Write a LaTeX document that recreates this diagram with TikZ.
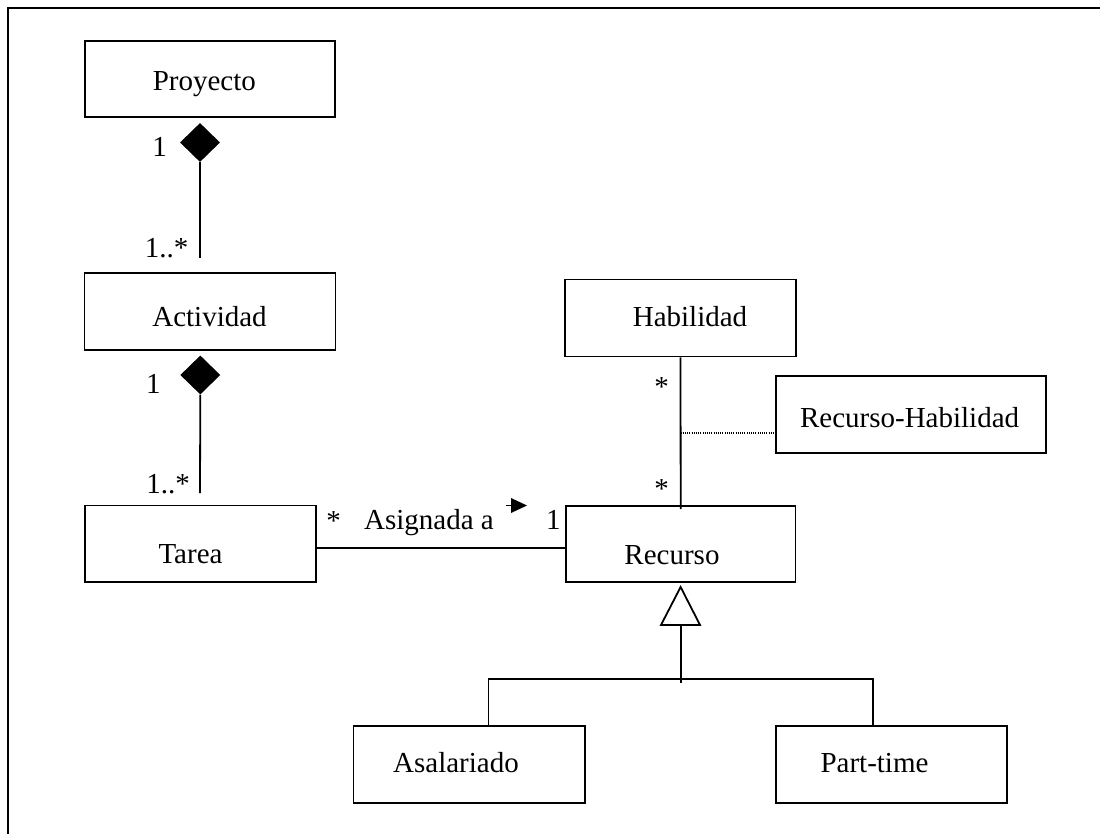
\documentclass[tikz,border=0pt]{standalone}
\usepackage{fontspec}
\setmainfont{Liberation Serif}
\usetikzlibrary{shapes.geometric}
\begin{document}
\begin{tikzpicture}[x=1pt,y=-1pt,
  cls/.style={draw, line width=1.8pt, inner sep=0pt, rectangle},
  cname/.style={font=\fontsize{29}{34}\selectfont, anchor=base, inner sep=0pt},
  mult/.style={font=\fontsize{29}{34}\selectfont, anchor=base, inner sep=0pt},
  conn/.style={line width=1.8pt},
  comp/.style={diamond, fill=black, inner sep=0pt, minimum width=40pt, minimum height=39pt},
]
\useasboundingbox (0,0) rectangle (1100,834);
\fill[white] (0,0) rectangle (1100,834);
% outer frame
\draw[line width=2.6pt] (8,834) -- (8,8) -- (1100,8);

% classes
\node[cls, minimum width=250pt, minimum height=76pt] (proy) at (210,79) {};
\node[cname] (tproy) at ([xshift=-5.7pt, yshift=-11.7pt]proy.center) {Proyecto};
\node[cls, minimum width=251pt, minimum height=77pt] (act) at (210,311.5) {};
\node[cname] (tact) at ([xshift=-0.5pt, yshift=-15.2pt]act.center) {Actividad};
\node[cls, minimum width=231pt, minimum height=76.5pt] (tarea) at (200.5,543.8) {};
\node[cname] (ttarea) at ([xshift=-10pt, yshift=-20pt]tarea.center) {Tarea};
\node[cls, minimum width=229.5pt, minimum height=76pt] (rec) at (680.7,544) {};
\node[cname] (trec) at ([xshift=-8.7pt, yshift=-20pt]rec.center) {Recurso};
\node[cls, minimum width=231pt, minimum height=77pt] (hab) at (680.5,318) {};
\node[cname] (thab) at ([xshift=9.5pt, yshift=-8.7pt]hab.center) {Habilidad};
\node[cls, minimum width=270pt, minimum height=77pt] (rh) at (911,414.5) {};
\node[cname] (trh) at ([xshift=-1.4pt, yshift=-12.8pt]rh.center) {Recurso-Habilidad};
\node[cls, minimum width=231.6pt, minimum height=77pt] (asal) at (469.2,764.5) {};
\node[cname] (tasal) at ([xshift=-13.2pt, yshift=-7.5pt]asal.center) {Asalariado};
\node[cls, minimum width=230.7pt, minimum height=77pt] (part) at (891.6,764.5) {};
\node[cname] (tpart) at ([xshift=-17.1pt, yshift=-7.5pt]part.center) {Part-time};

% composition Proyecto - Actividad
\node[comp] (dP) at (200,142.5) {};
\coordinate (eA) at (200,258);
\draw[conn] (dP.south) -- (eA);
\node[mult] (m1) at (159.5,157) {1};
\node[mult] (m2) at (166.7,258) {1..*};

% composition Actividad - Tarea
\node[comp] (dA) at (200.3,375) {};
\coordinate (eT) at (200,493);
\draw[conn] (dA.south) -- (eT);
\node[mult] (m3) at (153.3,393.3) {1};
\node[mult] (m4) at (168,493) {1..*};

% association Tarea - Recurso
\draw[conn] (tarea.east |- 0,548) -- (rec.west |- 0,548);
\node[mult] (m5) at (333.5,530) {*};
\node[mult] (asg) at (429,529) {Asignada a};
\node[mult] (m6) at (553.3,529) {1};
\fill (511,498) -- (527,505.5) -- (511,513) -- cycle;
\draw[line width=1.4pt] (506,505.5) -- (511,505.5);

% association Habilidad - Recurso with association class
\draw[conn] (hab.south) -- ([yshift=-4pt]rec.north);
\node[mult] (m7) at (661.5,396) {*};
\node[mult] (m8) at (661.5,498) {*};
\coordinate (ac) at (hab.south |- 0,433);
\draw[line width=1.1pt, dash pattern=on 1pt off 1.2pt] (ac) -- (rh.west |- ac);

% generalization
\coordinate (tip) at (680.6,587);
\draw[conn, fill=white, line join=miter] (tip) -- (700,625) -- (661,625) -- cycle;
\coordinate (gb) at (680.6,625);
\coordinate (ga) at (488.5,679);
\coordinate (gp) at (872.7,679);
\draw[conn] (gb) -- (680.6,683);
\draw[conn] (ga |- asal.north) -- (ga) -- (gp) -- (gp |- part.north);
\end{tikzpicture}
\end{document}
